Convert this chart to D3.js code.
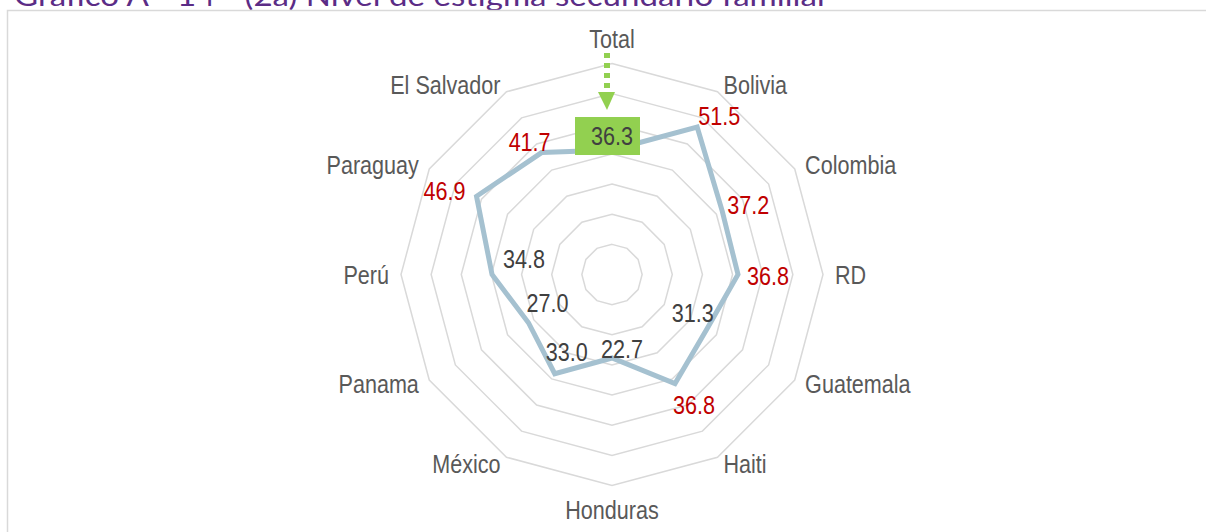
<!DOCTYPE html>
<html>
<head>
  <meta charset="utf-8">
  <title>Radar</title>
  <style type="text/css">
    body { margin: 0; background: #fff; }
    .ring { fill: none; stroke: #d9d9d9; stroke-width: 1.5; }
    .serie { fill: none; stroke: #a5c1d0; stroke-width: 5; stroke-linejoin: miter; }
    .cat { fill: #595959; font-family: "Liberation Sans", Arial, sans-serif; font-size: 26px; }
    .val { font-family: "Liberation Sans", Arial, sans-serif; font-size: 26px; }
  </style>
</head>
<body>
<script src="https://d3js.org/d3.v7.min.js"></script>
<script>
  // datos
  var categories = ["Total", "Bolivia", "Colombia", "RD", "Guatemala", "Haiti",
    "Honduras", "México", "Panama", "Perú", "Paraguay", "El Salvador"];
  var values = [36.3, 51.5, 37.2, 36.8, 31.3, 36.8, 22.7, 33.0, 27.0, 34.8, 46.9, 41.7];
  var ringValues = [5, 15, 25, 35, 45, 55, 65];
  var title = "Gráfico A - 14 - (2a) Nivel de estigma secundario familiar";

  // posiciones de las etiquetas de datos (desplazamiento desde el vértice)
  var labelNudge = [[0, -14], [22, -11], [26, -6], [30, 1], [-14, -16], [19, 21],
    [10, -9], [12, -22], [19, -20], [32, -16], [-32, -5], [-12, -11]];

  var width = 1206, height = 532;
  var cx = 612, cy = 274.5, R = 211;
  var n = categories.length;
  var narrow = 0.83; // fuente estrecha simulada

  var svg = d3.select("body").append("svg")
    .attr("width", width)
    .attr("height", height);

  // titulo (cortado arriba) y marco
  svg.append("text")
    .attr("x", 14)
    .attr("y", 6)
    .attr("fill", "#5b2c86")
    .attr("font-family", "Lato, 'Open Sans', sans-serif")
    .attr("font-size", 28)
    .attr("textLength", 815)
    .attr("lengthAdjust", "spacingAndGlyphs")
    .text(title);

  svg.append("rect")
    .attr("x", 7.5)
    .attr("y", 10.5)
    .attr("width", width + 20)
    .attr("height", height + 20)
    .attr("fill", "none")
    .attr("stroke", "#d9d9d9")
    .attr("stroke-width", 1.5);

  var rScale = d3.scaleLinear()
    .domain([-5, 65])
    .range([0, R]);

  var angle = d3.scaleLinear()
    .domain([0, n])
    .range([0, 2 * Math.PI]);

  function pt(i, v) {
    var a = angle(i), r = rScale(v);
    return [cx + r * Math.sin(a), cy - r * Math.cos(a)];
  }

  function place(x, y) {
    return "translate(" + x + "," + y + ") scale(" + narrow + ",1)";
  }

  var g = svg.append("g");

  // anillos
  g.selectAll(".ring")
    .data(ringValues)
    .enter()
    .append("path")
    .attr("class", "ring")
    .attr("d", function (rv) {
      return d3.line()(d3.range(n).map(function (i) { return pt(i, rv); })) + "Z";
    });

  // serie
  g.append("path")
    .datum(values)
    .attr("class", "serie")
    .attr("d", function (d) {
      return d3.line()(d.map(function (v, i) { return pt(i, v); })) + "Z";
    });

  // etiquetas de categorias
  var labR = R + 12;
  g.selectAll(".cat")
    .data(categories)
    .enter()
    .append("text")
    .attr("class", "cat")
    .attr("transform", function (d, i) {
      var c = Math.cos(angle(i)), s = Math.sin(angle(i));
      if (Math.abs(s) < 0.01) {
        return place(cx, cy - (labR + 12.5) * c);
      }
      return place(cx + labR * s, cy - labR * c * 0.98);
    })
    .attr("dy", "0.35em")
    .attr("text-anchor", function (d, i) {
      var s = Math.sin(angle(i));
      return s > 0.01 ? "start" : (s < -0.01 ? "end" : "middle");
    })
    .text(function (d) { return d; });

  // caja verde del total
  var total = values[0];
  var tp = pt(0, total);
  g.append("rect")
    .attr("x", tp[0] - 37)
    .attr("y", tp[1] + labelNudge[0][1] - 19)
    .attr("width", 65)
    .attr("height", 38)
    .attr("fill", "#92d050");

  // flecha verde
  g.append("line")
    .attr("x1", cx - 5).attr("x2", cx - 5)
    .attr("y1", 53).attr("y2", 92)
    .attr("stroke", "#92d050")
    .attr("stroke-width", 6)
    .attr("stroke-dasharray", "5,5");
  g.append("path")
    .attr("d", d3.line()([[cx - 14, 92], [cx + 3, 92], [cx - 5, 110]]) + "Z")
    .attr("fill", "#92d050");

  // etiquetas de datos
  g.selectAll(".val")
    .data(values)
    .enter()
    .append("text")
    .attr("class", "val")
    .attr("transform", function (v, i) {
      var p = pt(i, v);
      return place(p[0] + labelNudge[i][0], p[1] + labelNudge[i][1]);
    })
    .attr("dy", "0.35em")
    .attr("text-anchor", "middle")
    .attr("fill", function (v, i) { return (i > 0 && v > total) ? "#c00000" : "#404040"; })
    .text(function (v) { return d3.format(".1f")(v); });
</script>
</body>
</html>
